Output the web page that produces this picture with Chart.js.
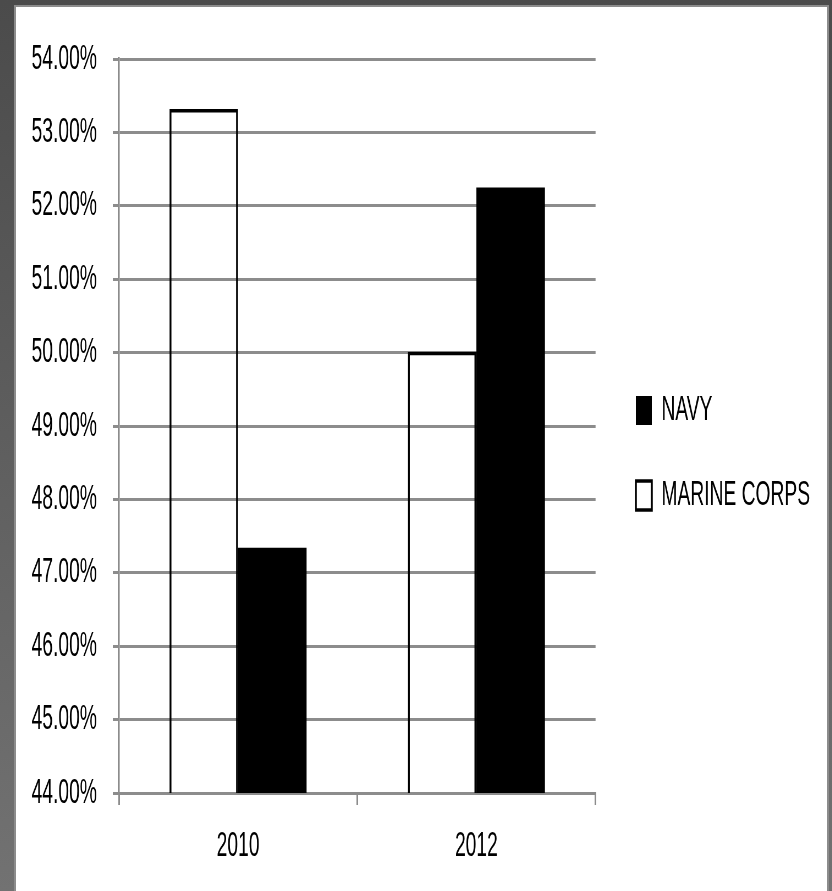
<!DOCTYPE html>
<html>
<head>
<meta charset="utf-8">
<script src="https://cdn.jsdelivr.net/npm/chart.js"></script>
<style>
  html, body { margin: 0; padding: 0; }
  body { width: 832px; height: 891px; overflow: hidden; position: relative;
         background: linear-gradient(#4b4b4b, #727272); }
  #panel { position: absolute; left: 14px; top: 5px; width: 811px; height: 900px;
           border: 2px solid #8c8c8c; background: #fff; overflow: hidden; }
  /* the original picture is squeezed sideways, so draw wide and squash it */
  #squash { width: 1475px; height: 884px; transform: scaleX(0.55); transform-origin: 0 0; }
</style>
</head>
<body>
<div id="panel"><div id="squash"><canvas id="chart"></canvas></div></div>
<script>
// data (percent)
const categories = ['2010', '2012'];
const marineCorps = [53.32, 50.01];
const navy = [47.34, 52.25];
const seriesNames = ['MARINE CORPS', 'NAVY'];
const yTicks = [44, 45, 46, 47, 48, 49, 50, 51, 52, 53, 54];

const gridGray = '#8c8c8c';

Chart.defaults.font.family = "'Liberation Sans', Arial, sans-serif";
Chart.defaults.font.size = 35;
Chart.defaults.color = '#000';

// push the legend a little right and up, like the original
const nudgeLegend = {
    id: 'nudgeLegend',
    afterLayout(chart) {
        let lg = chart.legend;
        lg.left = chart.chartArea.right + (1127 - (chart.chartArea.right + 50));
        lg.right = chart.width;
        lg.width = lg.right - lg.left;
        lg.top -= 20;
        lg.bottom -= 20;
    }
};

const ctx = document.getElementById('chart').getContext('2d');
new Chart(ctx, {
    type: 'bar',
    data: {
        labels: categories,
        datasets: [
            {
                label: seriesNames[0],
                data: marineCorps,
                backgroundColor: 'rgba(255,255,255,0)',
                borderColor: '#000',
                borderWidth: 3.5
            },
            {
                label: seriesNames[1],
                data: navy,
                backgroundColor: '#000',
                borderColor: '#000',
                borderWidth: 0
            }
        ]
    },
    options: {
        responsive: true,
        maintainAspectRatio: false,
        animation: false,
        categoryPercentage: 0.575,
        barPercentage: 1,
        layout: { padding: { top: 52, bottom: 4, left: 0, right: 70 } },
        plugins: {
            tooltip: { enabled: false },
            legend: {
                position: 'right',
                reverse: true,
                labels: { boxWidth: 29, boxHeight: 29, padding: 50, color: '#000' }
            }
        },
        scales: {
            x: {
                grid: { drawOnChartArea: false, color: gridGray, lineWidth: 3, tickLength: 12 },
                border: { color: gridGray, width: 3 },
                ticks: { padding: 20 }
            },
            y: {
                min: yTicks[0],
                max: yTicks[yTicks.length - 1],
                afterFit: (scale) => { scale.width = 187; },
                afterBuildTicks: (scale) => { scale.ticks = yTicks.map(v => ({ value: v })); },
                grid: { color: gridGray, lineWidth: 3, tickLength: 11 },
                border: { color: gridGray, width: 3.5 },
                ticks: {
                    padding: 29,
                    callback: (v) => v.toFixed(2) + '%'
                }
            }
        }
    },
    plugins: [nudgeLegend]
});
</script>
</body>
</html>
